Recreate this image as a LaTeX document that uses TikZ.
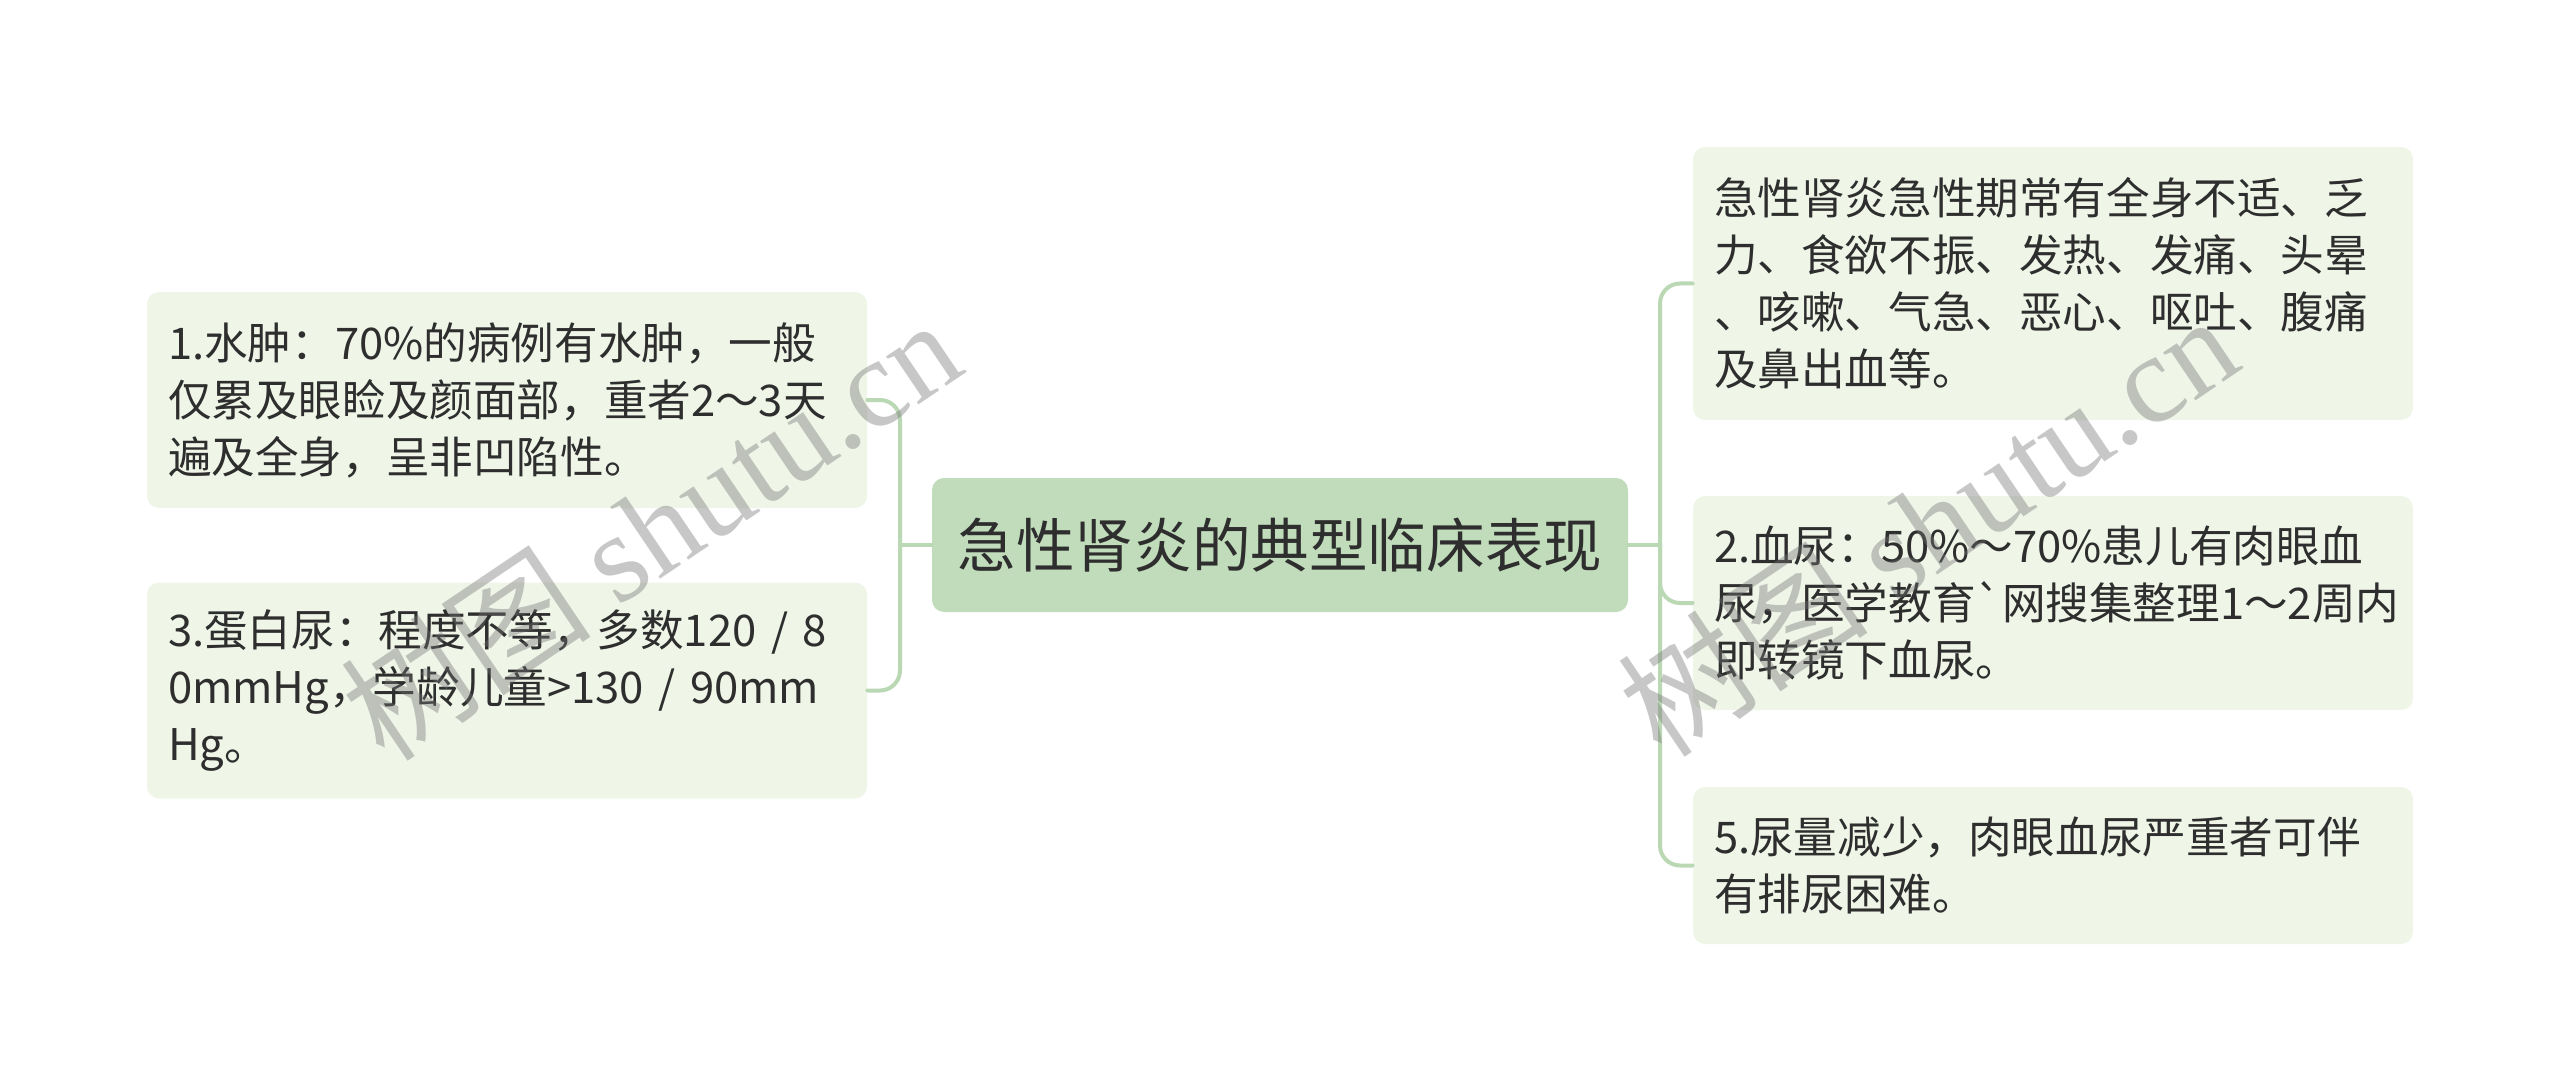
\documentclass[tikz,border=0pt]{standalone}
\usepackage{fontspec}
\newfontfamily\cjk{Noto Sans CJK SC}[Ligatures=TeXOff]
\newfontfamily\wmserif{Liberation Serif}
\definecolor{rootfill}{HTML}{C1DCBB}
\definecolor{leaffill}{HTML}{EFF6E8}
\definecolor{linkcol}{HTML}{BBD8B5}
\definecolor{txt}{HTML}{2E2E2E}
\begin{document}
\begin{tikzpicture}[x=0.5pt,y=-0.5pt,line join=round,line cap=round,
	root/.style={fill=rootfill,rounded corners=6pt,minimum width=348pt,minimum height=67pt,inner sep=0pt,text=txt,font=\cjk\fontsize{29.3}{36}\selectfont},
	leaf/.style={fill=leaffill,rounded corners=6pt,text width=339pt,inner xsep=10.5pt,inner ysep=0pt,align=left,text=txt,font=\cjk\fontsize{21.8}{28.5}\selectfont},
	link/.style={draw=linkcol,line width=2pt,rounded corners=10pt},
	watermark/.style={text=black!55,opacity=0.4,rotate=34,font=\cjk\fontsize{63}{68}\selectfont}]
	\useasboundingbox[fill=white] (0,0) rectangle (2560,1091);
	% centre
	\node[root] (root) at (1280,545) {急性肾炎的典型临床表现};
	% left side
	\node[leaf,minimum height=108pt] (n1) at (507,400) {1.水肿：70\%的病例有水肿，一般\\仅累及眼睑及颜面部，重者2～3天\\遍及全身，呈非凹陷性。};
	\node[leaf,minimum height=108pt] (n3) at (507,690.5) {3.蛋白尿：程度不等，多数120 / 8\\0mmHg，学龄儿童>130 / 90mm\\Hg。};
	% right side
	\node[leaf,minimum height=136.5pt] (nA) at (2053,283.5) {急性肾炎急性期常有全身不适、乏\\力、食欲不振、发热、发痛、头晕\\、咳嗽、气急、恶心、呕吐、腹痛\\及鼻出血等。};
	\node[leaf,minimum height=107pt] (n2) at (2053,603) {2.血尿：50\%～70\%患儿有肉眼血\\尿，医学教育`网搜集整理1～2周内\\即转镜下血尿。};
	\node[leaf,minimum height=78.5pt] (n5) at (2053,865.5) {5.尿量减少，肉眼血尿严重者可伴\\有排尿困难。};
	% links
	\coordinate (lj) at (900,545);
	\coordinate (rj) at (1660,545);
	\draw[link] (root.west) -- (lj);
	\draw[link] (lj) |- (n1.east);
	\draw[link] (lj) |- (n3.east);
	\draw[link] (root.east) -- (rj);
	\foreach \n in {nA,n2,n5}
		\draw[link] (rj) |- (\n.west);
	% watermarks
	\node[watermark] (wm1) at (650,528) {树图 {\wmserif shutu.cn}};
	\node[watermark] (wm2) at (1927,524) {树图 {\wmserif shutu.cn}};
\end{tikzpicture}
\end{document}
